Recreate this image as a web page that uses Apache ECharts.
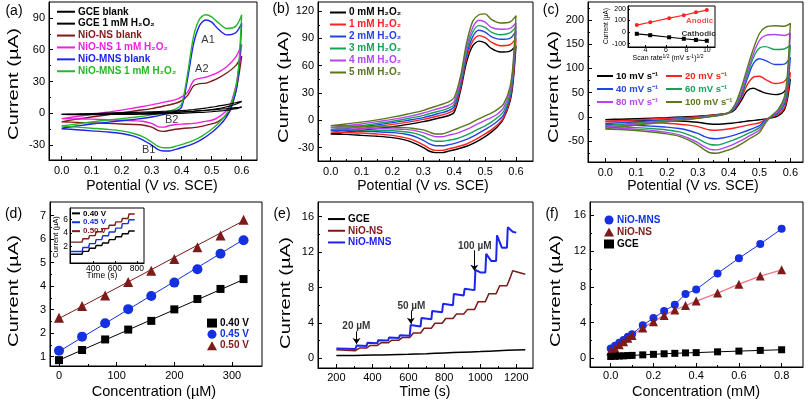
<!DOCTYPE html>
<html><head><meta charset="utf-8">
<script src="https://cdn.jsdelivr.net/npm/echarts@6/dist/echarts.min.js"></script>
<style>html,body{margin:0;padding:0;background:#fff}#c{width:808px;height:403px}</style>
</head><body><div id="c"></div>
<script>
const F = "'Liberation Sans', Arial, Helvetica, sans-serif";

// ---------- CV potentials ----------
const U = [0, 0.05, 0.1, 0.15, 0.2, 0.25, 0.3, 0.35, 0.38, 0.4, 0.42, 0.44, 0.46, 0.48, 0.5, 0.52, 0.55, 0.58, 0.6];
const L = [0.59, 0.58, 0.56, 0.54, 0.52, 0.5, 0.47, 0.44, 0.41, 0.38, 0.36, 0.34, 0.32, 0.3, 0.27, 0.24, 0.2, 0.15, 0.1, 0.05, 0];

// ---------- (a) ----------
const gceBlankUp = [-1, -0.8, -0.5, -0.2, 0, 0.3, 0.6, 1, 1.3, 1.5, 1.8, 2.1, 2.5, 2.9, 3.3, 3.8, 4.5, 5.3, 5.8];
const gceBlankDn = [5, 4.3, 3.3, 2.6, 2, 1.5, 1, 0.6, 0.2, -0.1, -0.3, -0.5, -0.6, -0.7, -0.8, -0.9, -1, -1.1, -1.2, -1.2, -1.1];
const gceH2Up = [-1, -0.6, -0.2, 0.2, 0.6, 1, 1.5, 2, 2.4, 2.7, 3.1, 3.6, 4.2, 5, 5.8, 6.8, 8.3, 10, 11.3];
const gceH2Dn = [9.8, 8.6, 6.8, 5.5, 4.4, 3.6, 2.6, 1.9, 1.3, 0.8, 0.5, 0.2, 0, -0.2, -0.4, -0.6, -0.8, -1, -1.1, -1.1, -1];
const nsBlankUp = [-8, -5.5, -3.5, -1.5, 0.5, 2.5, 4.5, 7.5, 9.5, 12, 17, 26, 28, 28.5, 30.5, 33, 38, 45, 54];
const nsBlankDn = [35, 20, 2, -4, -8, -10, -12, -13.5, -14, -15, -16, -17, -16, -13, -11, -10.5, -10, -9.5, -9, -8.5, -8];
const nsH2Up = [-5, -3, -1, 1, 3, 5.5, 8, 11, 13, 15.5, 20, 31, 33, 34, 36, 38.5, 44, 53, 65];
const nsH2Dn = [42, 25, 7, 0, -4, -6.5, -8, -9.5, -10, -10.5, -11.5, -13, -12.5, -9.5, -7.5, -7, -6.5, -6, -5.5, -5.2, -5];
const mnsBlankUp = [-14, -12, -10, -8.5, -7, -5.5, -3.5, -0.5, 2, 6, 33, 66, 83, 88, 86, 80, 74, 76, 85];
const mnsBlankDn = [40, 20, 2, -7, -13, -18, -24, -28.5, -31.5, -34, -35.5, -35.5, -34, -30, -25, -21.5, -19, -17.5, -16.5, -15.5, -14.5];
const mnsH2Up = [-12, -10, -8, -6.5, -5, -3.5, -1.5, 1.5, 4, 9, 38, 73, 89, 93, 91, 86, 80, 82, 93];
const mnsH2Dn = [45, 24, 5, -4, -10, -15, -21, -25.5, -28.5, -31, -32.5, -32.5, -31, -27, -22, -19, -16.5, -15, -14, -13, -12];
const aNotes = [['A1', 0.488, 69], ['A2', 0.467, 41.5], ['B2', 0.367, -6.3], ['B1', 0.29, -35]];

// ---------- (b) ----------
const bNames = ['0 mM H₂O₂', '1 mM H₂O₂', '2 mM H₂O₂', '3 mM H₂O₂', '4 mM H₂O₂', '5 mM H₂O₂'];
const b0Up = [-15, -13, -11, -9, -7, -4.5, -1.5, 2.5, 5, 9, 32, 64, 82, 87, 85, 79, 75, 76, 82];
const b0Dn = [40, 20, 2, -7, -13, -18, -24, -28.5, -31.5, -34, -35.5, -35.5, -34, -30, -25, -21.5, -19, -17.5, -16.5, -15.5, -15];
const b1Up = [-13, -11, -9, -6.5, -4.5, -2, 1, 5, 8, 12, 35, 68, 87, 93, 91, 86, 82, 83, 90];
const b1Dn = [44, 22, 3, -5, -10.5, -15, -21, -26, -29, -31.5, -33, -33, -31, -27, -22, -19, -16.5, -15, -14, -13.5, -13];
const b2Up = [-11, -9, -7, -5, -2.5, 0, 3, 7.5, 10.5, 15, 38, 72, 92, 99, 97, 92, 89, 90, 98];
const b2Dn = [48, 25, 6, -1, -6, -10, -16, -21, -24.5, -27, -28, -28, -26, -22, -17.5, -15, -13.5, -12.5, -12, -11.5, -11];
const b3Up = [-10, -8, -6, -3.5, -1, 2, 5.5, 10, 13, 18, 41, 76, 97, 104, 102, 97, 94, 96, 103];
const b3Dn = [52, 28, 10, 3, -2, -6, -11, -16, -20, -22, -23, -23, -21, -17.5, -14, -12.5, -11.5, -11, -10.5, -10, -10];
const b4Up = [-8, -6, -4, -1.5, 1, 4, 8, 13, 16, 21, 44, 80, 102, 110, 108, 102, 100, 101, 107];
const b4Dn = [56, 32, 14, 7, 3, 0, -5, -10, -14, -16.5, -18, -18, -16, -13.5, -11, -10, -9.5, -9, -8.5, -8.2, -8];
const b5Up = [-6, -4, -2, 0.5, 3.5, 7, 11, 16.5, 20, 25, 48, 85, 109, 116, 117, 111, 107, 108, 115];
const b5Dn = [60, 36, 18, 12, 8, 5, 0, -5, -9, -13, -15, -15, -13, -10.5, -9, -8, -7.5, -7, -6.5, -6.2, -6];

// ---------- (c) ----------
const cNames = ['10 mV s⁻¹', '20 mV s⁻¹', '40 mV s⁻¹', '60 mV s⁻¹', '80 mV s⁻¹', '100 mV s⁻¹'];
const c10Up = [-5.5, -4.5, -3.5, -2.5, -1.5, 0, 1.5, 4, 6, 8, 15, 33, 54, 59, 54, 49, 46, 52, 78];
const c10Dn = [35, 14, 2, -2, -4, -6, -8, -10.5, -13, -14.5, -15, -14.5, -13, -11, -9.5, -8.5, -7.5, -7, -6.5, -6, -5.5];
const c20Up = [-9, -7.5, -6, -4.5, -3, -1.5, 0.5, 3.5, 6, 8.5, 17, 38, 66, 82, 84, 77, 69, 73, 92];
const c20Dn = [42, 18, 5, 0, -5, -12, -16, -20, -24, -26.5, -27.5, -27, -24, -20, -17, -15, -13, -12, -11, -10.5, -10];
const c40Up = [-14, -12, -10, -8, -5.5, -3.5, -1, 2.5, 5.5, 8.5, 19, 42, 78, 110, 120, 116, 108, 109, 123];
const c40Dn = [55, 25, 8, 1, -6, -18, -26, -33, -39, -43.5, -45, -44, -40, -34, -28, -24, -21, -19, -17.5, -16, -15];
const c60Up = [-18, -15.5, -13, -10.5, -7.5, -5, -2, 2, 5, 8.5, 21, 46, 85, 122, 142, 145, 139, 140, 148];
const c60Dn = [65, 30, 10, 2, -8, -22, -32, -41, -49, -55.5, -58, -57, -52, -45, -37, -31, -27, -24, -22, -20.5, -19.5];
const c80Up = [-21, -18, -15, -12, -9, -6, -2.5, 1.5, 5, 8.5, 23, 52, 92, 130, 158, 168, 170, 168, 173];
const c80Dn = [75, 36, 12, 2, -10, -27, -38, -49, -58, -65, -68, -67, -61, -53, -44, -37, -32, -28, -25.5, -23.5, -22];
const c100Up = [-24, -20.5, -17, -13.5, -10, -6.5, -3, 1, 4.5, 8.5, 25, 58, 100, 140, 172, 185, 188, 187, 193];
const c100Dn = [85, 40, 15, 3, -12, -32, -44, -56, -66, -72, -75, -74, -67, -58, -48, -40, -35, -31, -28, -26, -25];
// inset (c)
const scanRoot = [3.16, 4.47, 6.32, 7.75, 8.94, 10];
const anodic = [60, 85, 120, 145, 170, 190];
const cathodic = [-15, -27, -45, -58, -68, -75];
const ciNotes = [['Anodic', 9.3, 98], ['Cathodic', 9.2, -14]];

// ---------- (d) ----------
const concD = [0, 40, 80, 120, 160, 200, 240, 280, 320];
const d040 = [0.85, 1.28, 1.73, 2.15, 2.52, 3.01, 3.45, 3.88, 4.30];
const d045 = [1.25, 1.85, 2.42, 3.02, 3.58, 4.15, 4.72, 5.38, 5.95];
const d050 = [2.65, 3.15, 3.60, 4.18, 4.65, 5.15, 5.65, 6.15, 6.82];
const fitXD = [0, 320];
const fit040 = [0.85, 4.28];
const fit045 = [1.22, 5.98];
const fit050 = [2.62, 6.78];
// inset (d)
const diStepT = [300, 360, 420, 480, 540, 600, 660, 720];
const diStart = 200, diEnd = 780;

// ---------- (e) ----------
const eGceT = [200, 300, 400, 500, 600, 700, 800, 900, 1000, 1100, 1200, 1250];
const eGce = [0.3, 0.32, 0.36, 0.4, 0.45, 0.52, 0.6, 0.68, 0.76, 0.85, 0.93, 0.95];
const eStepT = [310, 370, 430, 490, 550, 610, 670, 730, 790, 850, 910, 970, 1030, 1090, 1150];
const eMnsStart = [1.1, 1.05];
const eMnsLevel = [1.4, 1.7, 2.0, 2.3, 2.55, 3.6, 4.4, 5.2, 6.0, 7.1, 7.7, 9.7, 11.0, 12.5, 14.3];
const eMnsPeak = [1.45, 1.75, 2.05, 2.35, 2.6, 3.75, 4.55, 5.35, 6.15, 7.25, 7.85, 10.0, 11.8, 13.9, 14.8];
const eMnsEnd = [1200, 14.2];
const eNsStart = [0.95, 0.85];
const eNsLevel = [1.15, 1.45, 1.75, 2.05, 2.35, 2.85, 3.4, 3.95, 4.5, 5.0, 5.5, 6.4, 7.3, 8.2, 9.2];
const eNsTail = [[1180, 9.9], [1250, 9.5]];
const eNotes = [['20 µM', 311, 3.6], ['50 µM', 617, 5.9], ['100 µM', 969, 12.7]];
const eArrows = [[312, 3.05, 312, 1.6], [614, 5.4, 614, 3.9], [967, 12.2, 967, 9.9]];

// ---------- (f) ----------
const concF = [0, 0.02, 0.04, 0.06, 0.08, 0.1, 0.15, 0.2, 0.25, 0.3, 0.35, 0.4, 0.5, 0.6, 0.7, 0.8];
const fMNS = [1.1, 1.4, 1.75, 2.05, 2.4, 2.7, 3.7, 4.5, 5.3, 6.0, 7.2, 7.7, 9.5, 11.2, 12.8, 14.5];
const fNS = [0.8, 1.1, 1.5, 1.85, 2.25, 2.55, 3.4, 4.1, 4.8, 5.4, 5.9, 6.4, 7.3, 8.3, 9.2, 9.9];
const fGCE = [0.2, 0.22, 0.25, 0.27, 0.3, 0.32, 0.38, 0.44, 0.5, 0.55, 0.6, 0.63, 0.72, 0.8, 0.88, 0.95];

// ---------- tick labels ----------
const potTicks = [0, 0.1, 0.2, 0.3, 0.4, 0.5, 0.6], potMinor = [0.05, 0.15, 0.25, 0.35, 0.45, 0.55];
const aYT = [-30, 0, 30, 60, 90], aYM = [-15, 15, 45, 75];
const bYT = [-30, 0, 30, 60, 90, 120], bYM = [-15, 15, 45, 75, 105];
const cYT = [-50, 0, 50, 100, 150, 200], cYM = [-75, -25, 25, 75, 125, 175, 225];
const dXT = [0, 100, 200, 300], dXM = [50, 150, 250];
const dYT = [1, 2, 3, 4, 5, 6, 7], dYM = [1.5, 2.5, 3.5, 4.5, 5.5, 6.5];
const eXT = [200, 400, 600, 800, 1000, 1200], eXM = [300, 500, 700, 900, 1100];
const eYT = [0, 4, 8, 12, 16], eYM = [2, 6, 10, 14];
const fXT = [0, 0.2, 0.4, 0.6, 0.8], fXM = [0.1, 0.3, 0.5, 0.7];
const ciXT = [4, 6, 8, 10], ciYT = [-100, 0, 100, 200];
const diXT = [400, 600, 800], diYT = [2, 4, 6];

// ---------- layout (pixels) ----------
const boxes = [[49, 2, 257, 160], [318, 2, 533, 161], [588, 2, 803, 162], [50, 202, 262, 366], [318, 202, 533, 368], [590, 202, 803, 367], [628, 6, 715, 47], [70, 208, 144, 263]];
const AX = [
  {x: {min: -0.042, max: 0.651, t: potTicks, m: potMinor, d: 1, fs: 11, mg: 5, len: 4}, y: {min: -44, max: 105, t: aYT, m: aYM, d: 0, fs: 11, mg: 4, len: 4}},
  {x: {min: -0.041, max: 0.655, t: potTicks, m: potMinor, d: 1, fs: 11, mg: 5, len: 4}, y: {min: -44.7, max: 130, t: bYT, m: bYM, d: 0, fs: 11, mg: 4, len: 4}},
  {x: {min: -0.056, max: 0.641, t: potTicks, m: potMinor, d: 1, fs: 11, mg: 5, len: 4}, y: {min: -93, max: 237, t: cYT, m: cYM, d: 0, fs: 11, mg: 4, len: 4}},
  {x: {min: -15.6, max: 352, t: dXT, m: dXM, d: 0, fs: 11, mg: 4, len: 4}, y: {min: 0.6, max: 7.58, t: dYT, m: dYM, d: 0, fs: 11, mg: 4, len: 4}},
  {x: {min: 98, max: 1293, t: eXT, m: eXM, d: 0, fs: 11, mg: 4, len: 4}, y: {min: -1.1, max: 17.66, t: eYT, m: eYM, d: 0, fs: 11, mg: 4, len: 4}},
  {x: {min: -0.097, max: 0.9, t: fXT, m: fXM, d: 1, fs: 11, mg: 3, len: 4}, y: {min: -0.98, max: 17.5, t: eYT, m: eYM, d: 0, fs: 11, mg: 4, len: 4}},
  {x: {min: 2.3, max: 10.8, t: ciXT, m: [], d: 0, fs: 7, mg: 0, len: 2}, y: {min: -129, max: 225, t: ciYT, m: [], d: 0, fs: 7, mg: 2, len: 2}},
  {x: {min: 190, max: 865, t: diXT, m: [], d: 0, fs: 8.5, mg: 1, len: 2}, y: {min: -0.45, max: 7.7, t: diYT, m: [], d: 0, fs: 8.5, mg: 2, len: 2}}
];

const COL = {black: '#000000', dred: '#7d1a1a', pink: '#f21fe0', blue: '#1d24f0', green: '#27b827',
  red: '#ff2020', bblue: '#2244e6', teal: '#17a05a', purple: '#b445f2', olive: '#58781a', fpink: '#f07585', dblue: '#1530e0'};

function fmt(v, d) { let s = Number(v).toFixed(d); if (/^-0(\.0+)?$/.test(s)) s = s.slice(1); return s; }

const grids = [], xAxes = [], yAxes = [];
boxes.forEach((b, g) => {
  grids.push({left: b[0], top: b[1], width: b[2] - b[0], height: b[3] - b[1], show: true, borderColor: '#000', borderWidth: 1, backgroundColor: '#fff', containLabel: false});
  ['x', 'y'].forEach(dim => {
    const s = AX[g][dim];
    const pos = dim === 'x' ? 'bottom' : 'left';
    const main = {gridIndex: g, type: 'value', min: s.min, max: s.max, position: pos,
      axisLine: {show: true, onZero: false, lineStyle: {color: '#000', width: 1}},
      axisTick: {show: true, inside: true, length: s.len, customValues: s.t, lineStyle: {color: '#000', width: 1}},
      axisLabel: {show: true, customValues: s.t, formatter: v => fmt(v, s.d), fontSize: s.fs, fontFamily: F, color: '#000', margin: s.mg, hideOverlap: false},
      splitLine: {show: false}};
    const minor = {gridIndex: g, type: 'value', min: s.min, max: s.max, position: pos,
      axisLine: {show: false, onZero: false},
      axisTick: s.m.length ? {show: true, inside: true, length: 2, customValues: s.m, lineStyle: {color: '#000', width: 1}} : {show: false},
      axisLabel: {show: false}, splitLine: {show: false}};
    (dim === 'x' ? xAxes : yAxes).push(main, minor);
  });
});

const S = [];
function cv(name, color, up, dn, g, w) {
  S.push({type: 'line', name, xAxisIndex: 2 * g, yAxisIndex: 2 * g,
    data: U.map((x, i) => [x, up[i]]).concat(L.map((x, i) => [x, dn[i]])),
    symbol: 'none', showSymbol: false, smooth: 0.3, lineStyle: {color, width: w || 1.4}, itemStyle: {color}, silent: true});
}
function notes(g, arr, style) {
  S.push({type: 'scatter', xAxisIndex: 2 * g, yAxisIndex: 2 * g, symbolSize: 0, silent: true, z: 6,
    data: arr.map(n => ({value: [n[1], n[2]], name: n[0]})),
    label: Object.assign({show: true, position: 'inside', formatter: p => p.name, fontFamily: F}, style)});
}

// (a)
cv('NiO-NS blank', COL.dred, nsBlankUp, nsBlankDn, 0);
cv('NiO-NS 1 mM H₂O₂', COL.pink, nsH2Up, nsH2Dn, 0);
cv('NiO-MNS blank', COL.blue, mnsBlankUp, mnsBlankDn, 0);
cv('NiO-MNS 1 mM H₂O₂', COL.green, mnsH2Up, mnsH2Dn, 0);
cv('GCE blank', COL.black, gceBlankUp, gceBlankDn, 0, 1.2);
cv('GCE 1 mM H₂O₂', COL.black, gceH2Up, gceH2Dn, 0, 1.2);
notes(0, aNotes, {fontSize: 11, color: '#000'});

// (b)
const bCols = [COL.black, COL.red, COL.bblue, COL.teal, COL.purple, COL.olive];
[[b0Up, b0Dn], [b1Up, b1Dn], [b2Up, b2Dn], [b3Up, b3Dn], [b4Up, b4Dn], [b5Up, b5Dn]].forEach((p, i) => cv(bNames[i], bCols[i], p[0], p[1], 1));

// (c)
[[c10Up, c10Dn], [c20Up, c20Dn], [c40Up, c40Dn], [c60Up, c60Dn], [c80Up, c80Dn], [c100Up, c100Dn]].forEach((p, i) => cv(cNames[i], bCols[i], p[0], p[1], 2));

// (c) inset
S.push({type: 'line', name: 'Anodic', xAxisIndex: 12, yAxisIndex: 12, data: scanRoot.map((x, i) => [x, anodic[i]]), symbol: 'circle', symbolSize: 4, lineStyle: {color: COL.red, width: 1.2}, itemStyle: {color: COL.red}, silent: true});
S.push({type: 'line', name: 'Cathodic', xAxisIndex: 12, yAxisIndex: 12, data: scanRoot.map((x, i) => [x, cathodic[i]]), symbol: 'rect', symbolSize: 4, lineStyle: {color: '#000', width: 1.2}, itemStyle: {color: '#000'}, silent: true});
S.push({type: 'scatter', xAxisIndex: 12, yAxisIndex: 12, symbolSize: 0, silent: true, z: 6,
  data: ciNotes.map((n, i) => ({value: [n[1], n[2]], name: n[0], label: {color: i === 0 ? COL.red : '#000'}})),
  label: {show: true, position: 'inside', formatter: p => p.name, fontFamily: F, fontSize: 8, fontWeight: 'bold'}});

// (d)
const dCols = [COL.black, COL.dblue, COL.dred];
const dNames = ['0.40 V', '0.45 V', '0.50 V'];
const dSym = ['rect', 'circle', 'triangle'];
const dSize = [8, 10, 10];
[fit040, fit045, fit050].forEach((f, i) => S.push({type: 'line', name: 'fit ' + dNames[i], xAxisIndex: 6, yAxisIndex: 6, data: fitXD.map((x, k) => [x, f[k]]), symbol: 'none', lineStyle: {color: dCols[i], width: 1}, silent: true}));
[d040, d045, d050].forEach((v, i) => S.push({type: 'scatter', name: dNames[i], xAxisIndex: 6, yAxisIndex: 6, data: concD.map((x, k) => [x, v[k]]), symbol: dSym[i], symbolSize: dSize[i], itemStyle: {color: dCols[i], opacity: 1}, silent: true, z: 4}));
// (d) inset steps
[d040, d045, d050].forEach((v, i) => {
  const pts = [[diStart, v[0]]];
  diStepT.forEach((t, k) => { pts.push([t, v[k]]); pts.push([t + 8, v[k + 1]]); });
  pts.push([diEnd, v[v.length - 1]]);
  S.push({type: 'line', name: dNames[i] + '#i', xAxisIndex: 14, yAxisIndex: 14, data: pts, symbol: 'none', lineStyle: {color: dCols[i], width: 1.4}, itemStyle: {color: dCols[i]}, silent: true});
});

// (e)
S.push({type: 'line', name: 'GCE#e', xAxisIndex: 8, yAxisIndex: 8, data: eGceT.map((t, i) => [t, eGce[i]]), symbol: 'none', smooth: 0.3, lineStyle: {color: '#000', width: 1.5}, itemStyle: {color: '#000'}, silent: true});
(function () {
  const pts = [[200, eNsStart[0]], [306, eNsStart[1]]];
  let prev = eNsStart[1];
  eStepT.forEach((t, i) => {
    pts.push([t + 2, prev]); pts.push([t + 18, eNsLevel[i]]);
    if (i < eStepT.length - 1) pts.push([eStepT[i + 1] - 2, eNsLevel[i]]);
    prev = eNsLevel[i];
  });
  eNsTail.forEach(p => pts.push(p));
  S.push({type: 'line', name: 'NiO-NS#e', xAxisIndex: 8, yAxisIndex: 8, data: pts, symbol: 'none', lineStyle: {color: COL.dred, width: 1.5}, itemStyle: {color: COL.dred}, silent: true});
  const q = [[200, eMnsStart[0]], [306, eMnsStart[1]]];
  prev = eMnsStart[1];
  eStepT.forEach((t, i) => {
    const lv = eMnsLevel[i], pk = eMnsPeak[i];
    q.push([t, prev]); q.push([t + 3, pk]); q.push([t + (pk - lv > 0.3 ? 30 : 10), lv]);
    if (i < eStepT.length - 1) { q.push([eStepT[i + 1] - 2, lv]); prev = lv; }
  });
  q.push(eMnsEnd);
  S.push({type: 'line', name: 'NiO-MNS#e', xAxisIndex: 8, yAxisIndex: 8, data: q, symbol: 'none', lineStyle: {color: COL.blue, width: 2}, itemStyle: {color: COL.blue}, silent: true, z: 3});
})();
notes(4, eNotes, {fontSize: 10, fontWeight: 'bold', color: '#000'});
S.push({type: 'lines', coordinateSystem: 'cartesian2d', xAxisIndex: 8, yAxisIndex: 8, silent: true, z: 6,
  data: eArrows.map(a => ({coords: [[a[0], a[1]], [a[2], a[3]]]})),
  symbol: ['none', 'arrow'], symbolSize: 6, lineStyle: {color: '#000', width: 1, opacity: 1}, effect: {show: false}});

// (f)
S.push({type: 'line', xAxisIndex: 10, yAxisIndex: 10, data: concF.map((x, i) => [x, fGCE[i]]), symbol: 'none', lineStyle: {color: '#000', width: 1}, silent: true});
S.push({type: 'line', xAxisIndex: 10, yAxisIndex: 10, data: concF.map((x, i) => [x, fNS[i]]), symbol: 'none', lineStyle: {color: COL.fpink, width: 1.2}, silent: true});
S.push({type: 'line', xAxisIndex: 10, yAxisIndex: 10, data: concF.map((x, i) => [x, fMNS[i]]), symbol: 'none', lineStyle: {color: COL.dblue, width: 1}, silent: true});
S.push({type: 'scatter', name: 'NiO-MNS#f', xAxisIndex: 10, yAxisIndex: 10, data: concF.map((x, i) => [x, fMNS[i]]), symbol: 'circle', symbolSize: 8, itemStyle: {color: COL.dblue, opacity: 1}, silent: true, z: 4});
S.push({type: 'scatter', name: 'NiO-NS#f', xAxisIndex: 10, yAxisIndex: 10, data: concF.map((x, i) => [x, fNS[i]]), symbol: 'triangle', symbolSize: 9, itemStyle: {color: COL.dred, opacity: 1}, silent: true, z: 4});
S.push({type: 'scatter', name: 'GCE#f', xAxisIndex: 10, yAxisIndex: 10, data: concF.map((x, i) => [x, fGCE[i]]), symbol: 'rect', symbolSize: 7, itemStyle: {color: '#000', opacity: 1}, silent: true, z: 4});

// ---------- legends ----------
function lg(left, top, pitch, fs, iw, ih, items, extra) {
  return Object.assign({orient: 'vertical', left, top, padding: 0, itemGap: 0, itemWidth: iw, itemHeight: ih,
    selectedMode: false, icon: 'rect', formatter: n => n.split('#')[0],
    textStyle: {fontSize: fs, fontWeight: 'bold', fontFamily: F, lineHeight: pitch, padding: [0, 0, 0, -2]},
    data: items.map(it => ({name: it[0], textStyle: {color: it[1]}, icon: it[2] || 'rect'}))}, extra || {});
}
const legends = [
  lg(57, 5.8, 11.9, 10, 18, 2, [['GCE blank', '#000'], ['GCE 1 mM H₂O₂', '#000'], ['NiO-NS blank', COL.dred], ['NiO-NS 1 mM H₂O₂', COL.pink], ['NiO-MNS blank', COL.blue], ['NiO-MNS 1 mM H₂O₂', COL.green]]),
  lg(330, 6.5, 12, 10, 16, 2, bNames.map((n, i) => [n, bCols[i]])),
  lg(597, 69.5, 13, 9.5, 16, 2, [[cNames[0], bCols[0]], [cNames[2], bCols[2]], [cNames[4], bCols[4]]]),
  lg(666, 69.5, 13, 9.5, 16, 2, [[cNames[1], bCols[1]], [cNames[3], bCols[3]], [cNames[5], bCols[5]]]),
  lg(207, 317.4, 11.3, 10, 10, 9, dNames.map((n, i) => [n, dCols[i], dSym[i]])),
  lg(72, 208.9, 8.9, 8, 8, 2, dNames.map((n, i) => [n + '#i', dCols[i]])),
  lg(328, 213.2, 11.7, 10, 17, 2, [['GCE#e', '#000'], ['NiO-NS#e', COL.dred], ['NiO-MNS#e', COL.blue]]),
  lg(604, 214, 12, 10, 10, 9, [['NiO-MNS#f', COL.dblue, 'circle'], ['NiO-NS#f', COL.dred, 'triangle'], ['GCE#f', '#000', 'rect']])
];

// ---------- titles ----------
function txt(x, y, text, fs, opt) {
  return Object.assign({type: 'text', x, y, silent: true, z: 10,
    style: Object.assign({text, fontSize: fs, fontFamily: F, fill: '#000', align: 'center', verticalAlign: 'middle',
      rich: {i: {fontStyle: 'italic', fontSize: fs, fontFamily: F, fill: '#000'}, s: {fontSize: Math.round(fs * 0.7), fontFamily: F, fill: '#000', verticalAlign: 'top'}}}, (opt && opt.style) || {})},
    opt ? {rotation: opt.rotation || 0, scaleX: opt.scaleX || 1} : {});
}
const ROT = {rotation: Math.PI / 2, scaleX: 1.35};
const graphic = [
  txt(152, 186, 'Potential (V {i|vs.} SCE)', 14), txt(423, 186, 'Potential (V {i|vs.} SCE)', 14), txt(693, 186, 'Potential (V {i|vs.} SCE)', 14),
  txt(154, 392, 'Concentration (µM)', 14.5), txt(425, 392, 'Time (s)', 14), txt(696, 392, 'Concentration (mM)', 14.5),
  txt(13.5, 84, 'Current (µA)', 15, ROT), txt(283.5, 87, 'Current (µA)', 15, ROT), txt(553.5, 87, 'Current (µA)', 15, ROT),
  txt(13.5, 291, 'Current (µA)', 15, ROT), txt(285.5, 293, 'Current (µA)', 15, ROT), txt(555.5, 291, 'Current (µA)', 15, ROT),
  txt(606, 26, 'Current (µA)', 6.5, {rotation: Math.PI / 2}), txt(668, 58, 'Scan rate{s|1/2} (mV s{s|-1}){s|1/2}', 7),
  txt(56, 237, 'Current (µA)', 7.5, {rotation: Math.PI / 2}), txt(102, 276, 'Time (s)', 8.5),
  txt(14, 11, '(a)', 14), txt(281, 9.5, '(b)', 14), txt(551, 10, '(c)', 14),
  txt(13.5, 214, '(d)', 14), txt(282, 214, '(e)', 14), txt(552, 214, '(f)', 14)
];

const chart = echarts.init(document.getElementById('c'), null, {renderer: 'canvas'});
chart.setOption({animation: false, backgroundColor: '#fff', grid: grids, xAxis: xAxes, yAxis: yAxes, series: S, legend: legends, graphic});
</script></body></html>
